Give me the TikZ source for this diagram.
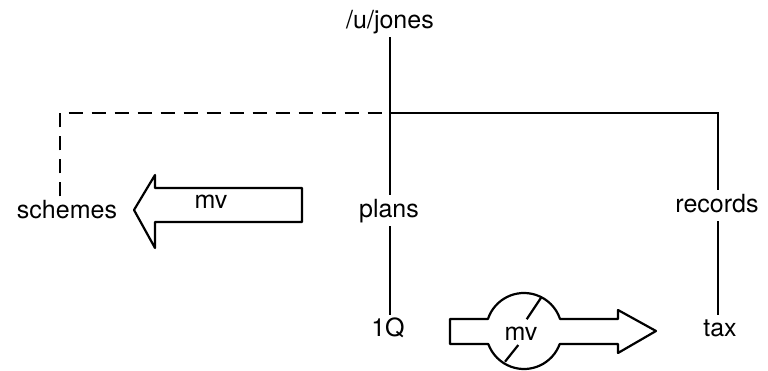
\documentclass[tikz,border=0pt]{standalone}
\usepackage{fontspec}
\setmainfont{TeX Gyre Heros}
\begin{document}
\begin{tikzpicture}[x=1pt,y=-1pt,
  lbl/.style={inner sep=0pt,outer ysep=4pt,text height=18pt,text depth=5pt,font=\fontsize{25}{30}\selectfont},
  ln/.style={line width=2.2pt},
  dsh/.style={line width=2.2pt,dash pattern=on 14pt off 9pt},
  bigarrow/.style={line width=2.2pt,line join=round}]
\useasboundingbox (0,0) rectangle (768,371);
% labels
\node[lbl] (jones) at (390,22) {/u/jones};
\node[lbl] (schemes) at (67,212) {schemes};
\node[lbl] (plans) at (389,211) {plans};
\node[lbl] (records) at (717,206) {records};
\node[lbl] (oneq) at (388,330) {1Q};
\node[lbl] (tax) at (720,330) {tax};
% corners of the tree
\coordinate (hl) at (60,113);
\coordinate (hm) at (390,113);
\coordinate (hr) at (718,113);
% tree lines
\draw[ln] (jones.south -| hm) -- (plans.north -| hm);
\draw[dsh] (schemes.north -| hl) -- (hl) -- (hm);
\draw[ln] (hm) -- (hr) -- (records.north -| hr);
\draw[ln] (plans.south -| hm) -- (oneq.north -| hm);
\draw[ln] (records.south -| hr) -- (tax.north -| hr);
% left move arrow
\draw[bigarrow] (134,210) -- (155,175) -- (155,188) -- (302,188) -- (302,222)
  -- (155,222) -- (155,248) -- cycle;
\node[lbl] (mvl) at (211,202.5) {mv};
% right move arrow with circle
\draw[bigarrow] (450,319) -- (487.94,319) arc[start angle=161.6, end angle=18.4, radius=38pt]
  -- (618,319) -- (618,310) -- (656,331) -- (618,353) -- (618,344) -- (559.71,344)
  arc[start angle=-20, end angle=-160, radius=38pt] -- (450,344) -- cycle;
\node[lbl] (mvr) at (521,333.5) {mv};
\draw[ln] (541.7,296.7) -- (526.7,319.3);
\draw[ln] (518.3,345) -- (505,361.7);
\end{tikzpicture}
\end{document}
